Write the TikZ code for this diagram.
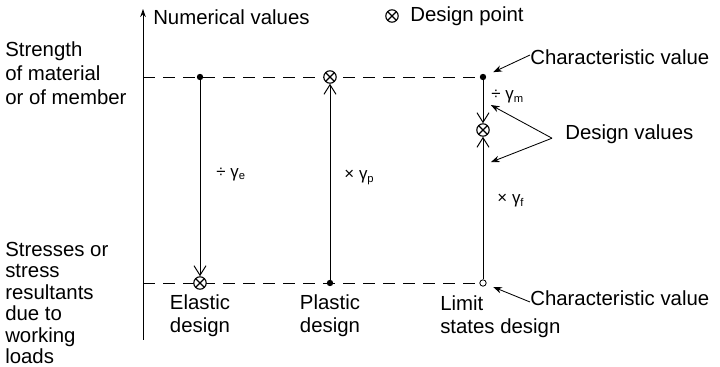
\documentclass[tikz,border=0pt]{standalone}
\usepackage{fontspec}
\setmainfont{Liberation Sans}
\usetikzlibrary{arrows.meta,backgrounds}

\begin{document}
\begin{tikzpicture}[
    label/.style={font=\fontsize{14.5}{16.5}\selectfont, inner sep=0pt},
    factor/.style={font=\fontsize{12}{14}\selectfont, inner sep=0pt, anchor=west},
    dot/.style={circle, fill=black, inner sep=0pt, minimum size=1.6mm},
    opendot/.style={circle, draw, fill=white, inner sep=0pt, minimum size=1.6mm, line width=0.6pt},
    dpoint/.style={circle, draw, fill=white, inner sep=0pt, minimum size=3.1mm, line width=0.8pt,
        path picture={\draw[line width=0.8pt] (path picture bounding box.south west) -- (path picture bounding box.north east)
            (path picture bounding box.north west) -- (path picture bounding box.south east);}},
    flow/.style={-{Straight Barb[length=2.4mm,width=3mm]}, line width=0.7pt},
    guide/.style={dash pattern=on 3mm off 2mm, line width=0.7pt},
    note/.style={-{Stealth[length=2.2mm,width=1.6mm]}, line width=0.6pt},
]
\useasboundingbox (0,0) rectangle (18,9.175);

% Axis
\coordinate (axisBot) at (3.575,0.675);
\coordinate (axisTop) at (3.575,8.95);
\draw[-{Stealth[length=2mm,width=1.4mm]}, line width=0.7pt] (axisBot) -- (axisTop);
\node[label, anchor=west] (axisTxt) at (3.825,8.75) {Numerical values};

% Legend
\node[dpoint] (legendPt) at (9.8,8.775) {};
\node[label, anchor=west] (legendTxt) at (10.25,8.775) {Design point};

% Levels
\coordinate (sTop) at (3.575,7.25);
\coordinate (sBot) at (3.575,2.1);
\node[label, anchor=west, align=left, font=\fontsize{14.5}{17}\selectfont] (strength) at (0.125,7.35) {Strength\\of material\\or of member};
\node[label, anchor=west, align=left, font=\fontsize{14.5}{15.2}\selectfont] (stresses) at (0.125,1.6) {Stresses or\\stress\\resultants\\due to\\working\\loads};

% Points
\node[dot] (eTop) at (5.0,7.25) {};
\node[dpoint] (eBot) at (5.0,2.1) {};
\node[dpoint] (pTop) at (8.25,7.25) {};
\node[dot] (pBot) at (8.25,2.1) {};
\node[dot] (lTop) at (12.075,7.25) {};
\node[dpoint] (lMid) at (12.075,5.925) {};
\node[opendot] (lBot) at (12.075,2.1) {};

% Dashed levels
\begin{scope}[on background layer]
\draw[guide] (sTop) -- (lTop.center);
\draw[guide] (sBot) -- (lBot.center);
\end{scope}

% Elastic design
\draw[flow] (eTop) -- (eBot) node[factor, pos=0.48, xshift=0.4cm] {÷ γ\textsubscript{e}};
\node[label, align=center] (elastic) at (5.0,1.275) {Elastic\\design};

% Plastic design
\draw[flow] (pBot) -- (pTop) node[factor, pos=0.52, xshift=0.35cm] {× γ\textsubscript{p}};
\node[label, align=center] (plastic) at (8.25,1.275) {Plastic\\design};

% Limit states design
\draw[flow] (lTop) -- (lMid) node[factor, pos=0.38, xshift=0.2cm] {÷ γ\textsubscript{m}};
\draw[flow] (lBot) -- (lMid) node[factor, pos=0.55, xshift=0.35cm] {× γ\textsubscript{f}};
\node[label, anchor=west, align=left] (limit) at (11.0,1.25) {Limit\\states design};

% Annotations
\node[label, anchor=west] (charTop) at (13.25,7.75) {Characteristic value};
\node[label, anchor=west] (desVal) at (14.125,5.825) {Design values};
\node[label, anchor=west] (charBot) at (13.25,1.725) {Characteristic value};
\coordinate (charTopTip) at (12.33,7.37);
\coordinate (desTipA) at (12.27,6.55);
\coordinate (desTipB) at (12.27,5.12);
\coordinate (desTail) at (13.8,5.72);
\coordinate (charBotTip) at (12.33,2.0);
\draw[note] ([yshift=0.05cm]charTop.west) -- (charTopTip);
\draw[note] (desTail) -- (desTipA);
\draw[note] (desTail) -- (desTipB);
\draw[note] ([yshift=-0.1cm]charBot.west) -- (charBotTip);
\end{tikzpicture}
\end{document}
